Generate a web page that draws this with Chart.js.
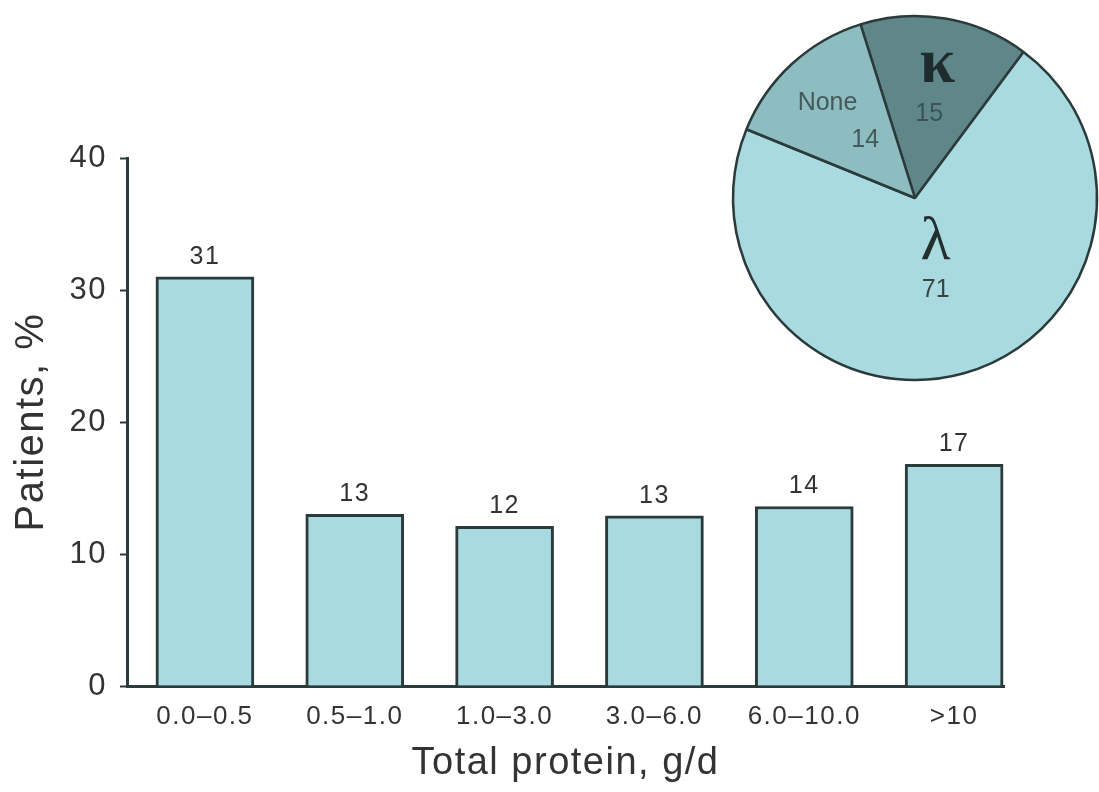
<!DOCTYPE html>
<html>
<head>
<meta charset="utf-8">
<script src="https://cdn.jsdelivr.net/npm/chart.js@4.4.1/dist/chart.umd.min.js"></script>
<style>
  html, body { margin: 0; padding: 0; background: #ffffff; overflow: hidden; }
  #wrap { position: relative; width: 1099px; height: 792px; }
  #bar { position: absolute; left: 0; top: 0; }
  #pie { position: absolute; left: 725px; top: 8px; }
</style>
</head>
<body>
<div id="wrap">
  <canvas id="bar" width="1099" height="792"></canvas>
  <canvas id="pie" width="380" height="380"></canvas>
</div>
<script>
// ---- Data ----
const categories = ['0.0\u20130.5', '0.5\u20131.0', '1.0\u20133.0', '3.0\u20136.0', '6.0\u201310.0', '>10'];
const barValues = [31, 13, 12.1, 12.9, 13.6, 16.8];
const barLabels = ['31', '13', '12', '13', '14', '17'];
const yTicks = [0, 10, 20, 30, 40];

const pieNames = ['\u03ba', '\u03bb', 'None'];
const pieValues = [15, 71, 14];

// ---- Styles ----
const FONT = '"Liberation Sans", Arial, Helvetica, sans-serif';
const SERIF = '"Liberation Serif", "Times New Roman", serif';
const INK = '#2b3a3b';
const TEXT = '#333333';
const BAR_FILL = '#a8dadf';
const PIE_COLORS = ['#5f8789', '#a8dadf', '#8dbdc1'];

const spacing = {
  id: 'spacing',
  beforeDraw(chart) { chart.ctx.letterSpacing = '1.5px'; }
};

// Bar chart
const barDataLabels = {
  id: 'barDataLabels',
  afterDatasetsDraw(chart) {
    const ctx = chart.ctx;
    const meta = chart.getDatasetMeta(0);
    ctx.save();
    ctx.font = '25px ' + FONT;
    ctx.fillStyle = TEXT;
    ctx.textAlign = 'center';
    ctx.textBaseline = 'middle';
    meta.data.forEach((el, i) => {
      ctx.fillText(barLabels[i], el.x, el.y - 20);
    });
    ctx.restore();
  }
};

new Chart(document.getElementById('bar'), {
  type: 'bar',
  data: {
    datasets: [{
      data: barValues.map((v, i) => ({ x: i, y: v })),
      backgroundColor: BAR_FILL,
      borderColor: INK,
      borderWidth: 3,
      borderSkipped: 'bottom',
      barThickness: 98
    }]
  },
  options: {
    responsive: false,
    animation: false,
    devicePixelRatio: 1,
    layout: { padding: { top: 158, right: 95, left: 0, bottom: 0 } },
    plugins: { legend: { display: false }, tooltip: { enabled: false } },
    scales: {
      x: {
        type: 'linear',
        offset: false,
        min: -0.52,
        max: 5.333,
        afterBuildTicks: (scale) => { scale.ticks = categories.map((c, i) => ({ value: i })); },
        afterFit: (scale) => { scale.height = 106; },
        grid: { display: false, drawTicks: false },
        border: { display: true, color: INK, width: 3 },
        ticks: {
          callback: (v) => categories[v],
          font: { family: FONT, size: 26 },
          color: TEXT,
          padding: 15,
          maxRotation: 0,
          autoSkip: false
        },
        title: {
          display: true,
          text: 'Total protein, g/d',
          font: { family: FONT, size: 38 },
          color: TEXT,
          padding: { top: 0, bottom: 6 }
        }
      },
      y: {
        min: 0,
        max: 40,
        afterBuildTicks: (scale) => { scale.ticks = yTicks.map(v => ({ value: v })); },
        afterFit: (scale) => { scale.width = 127; },
        grid: { drawOnChartArea: false, drawTicks: true, tickLength: 7, tickColor: INK, tickWidth: 2 },
        border: { display: true, color: INK, width: 3 },
        ticks: {
          font: { family: FONT, size: 31 },
          color: TEXT,
          padding: 13
        },
        title: {
          display: true,
          text: 'Patients, %',
          font: { family: FONT, size: 40 },
          color: TEXT,
          padding: { top: 8, bottom: 0 }
        }
      }
    }
  },
  plugins: [spacing, barDataLabels]
});

// Pie chart
const pieLabelStyle = [
  { symFont: 'bold 64px ' + SERIF, symColor: '#1f2c2d', symFrac: 0.74, symAng: 0, valFrac: 0.47, valAng: 0, valColor: '#3a5253' },
  { symFont: '62px ' + SERIF, symColor: '#243030', symFrac: 0.27, symAng: -9, valFrac: 0.52, valAng: 3, valColor: '#3a4444' },
  { symFont: '25px ' + FONT, symColor: '#44595a', symFrac: 0.71, symAng: 0, valFrac: 0.42, valAng: 2, valColor: '#44595a' }
];

const pieLabels = {
  id: 'pieLabels',
  afterDatasetsDraw(chart) {
    const ctx = chart.ctx;
    const meta = chart.getDatasetMeta(0);
    ctx.save();
    ctx.textAlign = 'center';
    ctx.textBaseline = 'middle';
    meta.data.forEach((arc, i) => {
      const st = pieLabelStyle[i];
      const mid = (arc.startAngle + arc.endAngle) / 2;
      const r = arc.outerRadius;
      const a1 = mid + st.symAng * Math.PI / 180;
      const a2 = mid + st.valAng * Math.PI / 180;
      ctx.font = st.symFont;
      ctx.fillStyle = st.symColor;
      ctx.fillText(pieNames[i], arc.x + Math.cos(a1) * r * st.symFrac, arc.y + Math.sin(a1) * r * st.symFrac);
      ctx.font = '25px ' + FONT;
      ctx.fillStyle = st.valColor;
      ctx.fillText(String(pieValues[i]), arc.x + Math.cos(a2) * r * st.valFrac, arc.y + Math.sin(a2) * r * st.valFrac);
    });
    ctx.restore();
  }
};

new Chart(document.getElementById('pie'), {
  type: 'pie',
  data: {
    labels: pieNames,
    datasets: [{
      data: pieValues,
      backgroundColor: PIE_COLORS,
      borderColor: INK,
      borderWidth: 2.5
    }]
  },
  options: {
    responsive: false,
    animation: false,
    devicePixelRatio: 1,
    radius: 182,
    rotation: -17.4,
    layout: { padding: 0 },
    plugins: { legend: { display: false }, tooltip: { enabled: false } }
  },
  plugins: [pieLabels]
});
</script>
</body>
</html>
